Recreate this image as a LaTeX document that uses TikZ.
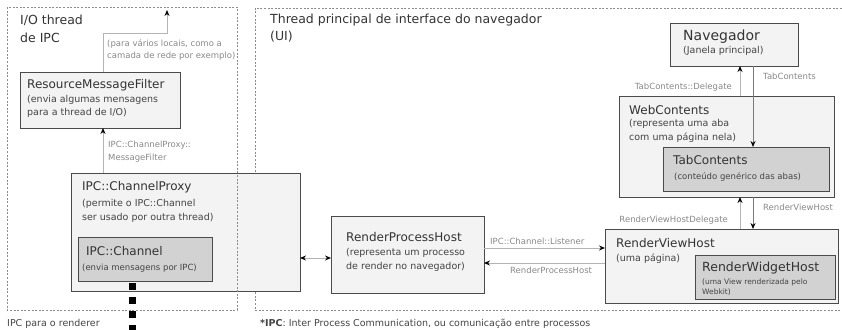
\documentclass[tikz,border=0pt]{standalone}
\usepackage{fontspec}
\setmainfont{DejaVu Sans}
\usetikzlibrary{arrows.meta}
\definecolor{boxline}{HTML}{4A4A4A}
\definecolor{boxfill}{HTML}{F3F3F3}
\definecolor{innerfill}{HTML}{D2D2D2}
\definecolor{titletext}{HTML}{333333}
\definecolor{desctext}{HTML}{444444}
\definecolor{lbltext}{HTML}{888888}
\definecolor{connlight}{HTML}{B4B4B4}
\definecolor{conndark}{HTML}{7A7A7A}
\definecolor{regionline}{HTML}{8C8C8C}
\begin{document}
\begin{tikzpicture}[
x=1pt,y=-1pt,
tip/.tip={Stealth[length=6pt,width=5pt,color=black]},
region/.style={draw=regionline,line width=0.8pt,dash pattern=on 2pt off 1.6pt},
box/.style={draw=boxline,fill=boxfill,line width=0.9pt,anchor=north west,inner sep=0pt,outer sep=0pt},
innerbox/.style={box,fill=innerfill},
title/.style={anchor=west,inner sep=0pt,text=titletext,font=\fontsize{12}{14}\selectfont},
desc/.style={anchor=west,inner sep=0pt,align=left,text=desctext,font=\fontsize{9.5}{13.5}\selectfont},
smalldesc/.style={desc,font=\fontsize{8.5}{10}\selectfont},
lbl/.style={anchor=west,inner sep=0pt,align=left,text=lbltext,font=\fontsize{8.5}{12.5}\selectfont},
conn/.style={draw=connlight,line width=0.9pt,-tip},
darkconn/.style={conn,draw=conndark}
]
\useasboundingbox (0,0) rectangle (842,329);
% regiao da thread de UI
\draw[region] (842,8) -| (255,310) -- (842,310);
\node[title,align=left,font=\fontsize{12.5}{17}\selectfont] (uititle) at (270,28.5)
  {Thread principal de interface do navegador\\(UI)};

% lado do IPC
\node[box,minimum width=160pt,minimum height=56pt] (rmf) at (20,72) {};
\node[title] (rmft) at (27,85) {ResourceMessageFilter};
\node[desc] (rmfd) at (27,106.5) {(envia algumas mensagens\\para a thread de I/O)};

\node[box,minimum width=229pt,minimum height=118pt] (cp) at (71,173) {};
\node[title] (cpt) at (82,187) {IPC::ChannelProxy};
\node[desc] (cpd) at (82,211) {(permite o IPC::Channel\\ser usado por outra thread)};

\node[innerbox,minimum width=134pt,minimum height=44pt] (chan) at (78,237) {};
\node[title] (chant) at (86,251) {IPC::Channel};
\node[smalldesc] (chand) at (82,268) {(envia mensagens por IPC)};

% regiao da thread de I/O
\draw[region] (7,7) rectangle (237,310);
\node[title,align=left,font=\fontsize{12.5}{18}\selectfont] (iotitle) at (20,29) {I/O thread\\de IPC};

% lado do navegador
\node[box,minimum width=153pt,minimum height=77pt] (rph) at (331,216) {};
\node[title] (rpht) at (346,237) {RenderProcessHost};
\node[desc] (rphd) at (346,260) {(representa um processo\\de render no navegador)};

\node[box,minimum width=128pt,minimum height=43pt] (nav) at (670,23) {};
\node[title,font=\fontsize{14}{16}\selectfont] (navt) at (683,37) {Navegador};
\node[desc] (navd) at (683,51) {(Janela principal)};

\node[box,minimum width=215pt,minimum height=101pt] (wc) at (619,96) {};
\node[title] (wct) at (629,110) {WebContents};
\node[desc] (wcd) at (629,131) {(representa uma aba\\com uma página nela)};

\node[innerbox,minimum width=166pt,minimum height=44pt] (tc) at (663,147) {};
\node[title] (tct) at (673,160) {TabContents};
\node[smalldesc] (tcd) at (674,177) {(conteúdo genérico das abas)};

\node[box,minimum width=233pt,minimum height=74pt] (rvh) at (605,229) {};
\node[title] (rvht) at (616,243) {RenderViewHost};
\node[desc] (rvhd) at (616,259) {(uma página)};

\node[innerbox,minimum width=140pt,minimum height=44pt] (rwh) at (695,255) {};
\node[title,font=\fontsize{12.5}{14}\selectfont] (rwht) at (702,268) {RenderWidgetHost};
\node[smalldesc,font=\fontsize{7.5}{10}\selectfont] (rwhd) at (702,287) {(uma View renderizada pelo\\Webkit)};

% conexoes
\coordinate (netbend) at (167,33);
\coordinate (net) at (167,10);
\draw[conn] ([xshift=3pt]rmf.north) |- (netbend) -- (net);
\node[lbl] (netl) at (107,50) {(para vários locais, como a\\camada de rede por exemplo)};

\path ([xshift=3pt]rmf.south) coordinate (mfin);
\draw[conn] (cp.north -| mfin) -- (mfin);
\node[lbl] (mfl) at (108,151.5) {IPC::ChannelProxy::\\MessageFilter};

\path ([yshift=-3.5pt]rph.west) coordinate (rphin);
\draw[conn,tip-tip] (cp.east |- rphin) -- (rphin);

\path ([yshift=6.5pt]rph.east) coordinate (lstout);
\draw[conn] (lstout) -- (rvh.west |- lstout);
\node[lbl] (lstl) at (490,241) {IPC::Channel::Listener};
\path ([yshift=-8.5pt]rph.east) coordinate (rphback);
\draw[conn] (rvh.west |- rphback) -- (rphback);
\node[lbl] (rphl) at (510,270) {RenderProcessHost};

\path ([xshift=6pt]nav.south) coordinate (dlgup);
\path ([xshift=19pt]nav.south) coordinate (tcdown);
\draw[conn] (wc.north -| dlgup) -- (dlgup);
\node[lbl,anchor=east] (dlgl) at (732,87) {TabContents::Delegate};
\draw[darkconn] (tcdown) -- (tc.north -| tcdown);
\node[lbl] (tcl) at (763,76) {TabContents};

\draw[conn] (rvh.north -| dlgup) -- (wc.south -| dlgup);
\node[lbl,anchor=east] (rvdl) at (728,220) {RenderViewHostDelegate};
\draw[darkconn] (wc.south -| tcdown) -- (rvh.north -| tcdown);
\node[lbl] (rvl) at (763,207) {RenderViewHost};

% IPC para o processo de render
\coordinate (rend) at (132,332);
\draw[line width=7pt,dash pattern=on 7pt off 7pt] (chan.south -| rend) ++(0,2) -- (rend);
\node[desc,anchor=west] (rendl) at (7,324) {IPC para o renderer};
\node[desc,anchor=west] (ipcnote) at (260,324)
  {\textbf{*IPC}: Inter Process Communication, ou comunicação entre processos};
\end{tikzpicture}
\end{document}
